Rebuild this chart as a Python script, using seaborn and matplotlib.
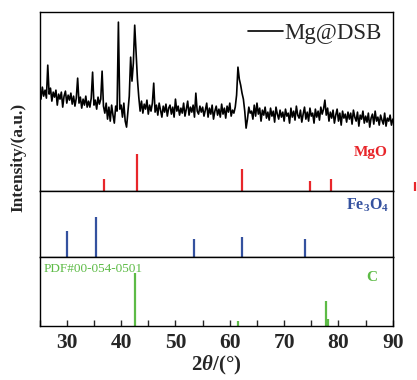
import numpy as np
import pandas as pd
import matplotlib
matplotlib.use("Agg")
import matplotlib.pyplot as plt
import seaborn as sns
from matplotlib.ticker import MultipleLocator

# =====================================
# 1. DATA
# =====================================

# measured pattern, 25-90 deg, 0.25 deg step (arbitrary units)
xrd_counts = [
    100, 92, 104, 95, 101, 93, 126, 97, 103, 90, 99, 94,      # 25
    101, 86, 97, 92, 99, 84, 95, 100, 88, 96, 91, 98,         # 28
    87, 95, 85, 93, 113, 88, 94, 83, 92, 86, 95, 84,          # 31
    90, 84, 93, 119, 86, 91, 82, 94, 87, 92, 120, 85,         # 34
    78, 88, 72, 84, 70, 86, 76, 68, 85, 80, 169, 82,          # 37
    86, 74, 88, 70, 64, 80, 95, 134, 110, 128, 166, 138,      # 40
    112, 94, 80, 90, 78, 87, 82, 91, 77, 86, 80, 88,          # 43
    108, 79, 86, 76, 88, 81, 74, 85, 79, 87, 75, 83,          # 46
    86, 77, 84, 74, 92, 80, 85, 76, 83, 78, 88, 75,           # 49
    82, 90, 76, 84, 79, 86, 74, 98, 80, 77, 85, 79,           # 52
    84, 75, 81, 88, 74, 83, 77, 86, 72, 80, 85, 76,           # 55
    82, 74, 87, 77, 83, 73, 85, 79, 88, 75, 81, 78,           # 58
    84, 96, 124, 112, 106, 98, 92, 80, 63, 72, 84, 78,        # 61
    80, 72, 86, 75, 88, 77, 83, 70, 81, 76, 84, 73,           # 64
    79, 71, 83, 75, 80, 69, 84, 77, 72, 81, 74, 79,           # 67
    70, 82, 75, 78, 68, 83, 74, 80, 71, 85, 76, 73,           # 70
    81, 69, 77, 84, 72, 79, 70, 83, 75, 78, 68, 82,           # 73
    74, 80, 71, 84, 77, 82, 91, 76, 83, 70, 79, 73,           # 76
    81, 68, 76, 82, 70, 78, 66, 80, 73, 77, 69, 79,           # 79
    72, 78, 67, 81, 74, 70, 79, 65, 76, 72, 80, 68,           # 82
    75, 69, 78, 64, 73, 77, 67, 80, 70, 74, 66, 76,           # 85
    71, 67, 78, 65, 73, 70, 76, 66, 72,                       # 88-90
]
two_theta = np.linspace(25, 90, len(xrd_counts))

# reference cards
mgo_pos = [36.9, 42.9, 62.3, 74.7, 78.6, 94.0]
mgo_int = [12, 37, 22, 10, 12, 9]

fe3o4_pos = [30.1, 35.4, 53.5, 62.3, 73.9]
fe3o4_int = [26, 40, 18, 20, 18]

c_pos = [42.5, 61.5, 77.7, 78.0]
c_int = [53, 5, 25, 7]

xticks = [30, 40, 50, 60, 70, 80, 90]

red = "#e8262b"
blue = "#34519f"
green = "#5dbb46"

# =====================================
# 2. STYLE
# =====================================

sns.set_style("ticks")
plt.rcParams["font.family"] = ["Liberation Serif", "DejaVu Serif"]
plt.rcParams["mathtext.fontset"] = "custom"
plt.rcParams["mathtext.rm"] = "Liberation Serif"
plt.rcParams["mathtext.bf"] = "Liberation Serif:bold"
plt.rcParams["mathtext.it"] = "Liberation Serif:italic"
plt.rcParams["mathtext.bfit"] = "Liberation Serif:italic:bold"

df = pd.DataFrame({"two_theta": two_theta, "counts": xrd_counts})

# =====================================
# 3. FIGURE
# =====================================

fig, axes = plt.subplots(
    3, 1, figsize=(4.17, 3.80), dpi=100, sharex=True,
    gridspec_kw={"height_ratios": [179, 66, 69], "hspace": 0}
)
fig.subplots_adjust(left=0.095, right=0.942, top=0.968, bottom=0.142)
ax1, ax2, ax3 = axes

# top: measured pattern + MgO card
sns.lineplot(
    data=df, x="two_theta", y="counts", ax=ax1,
    color="black", lw=1.2, estimator=None, label="Mg@DSB"
)
ax1.vlines(mgo_pos, 0, mgo_int, color=red, lw=1.6, clip_on=False)
ax1.set_ylim(0, 179)
ax1.text(0.986, 0.218, "MgO", color=red, fontsize=11, fontweight="bold",
         ha="right", va="center", transform=ax1.transAxes)
ax1.legend(loc="center right", bbox_to_anchor=(1.0, 0.883), frameon=False,
           fontsize=16.5, handlelength=1.5, handletextpad=0.05,
           borderaxespad=0.1)

# middle: Fe3O4 card
ax2.vlines(fe3o4_pos, 0, fe3o4_int, color=blue, lw=1.6)
ax2.set_ylim(0, 66)
ax2.text(0.988, 0.79, r"$\mathbf{Fe_3O_4}$", color=blue, fontsize=11.5,
         ha="right", va="center", transform=ax2.transAxes)

# bottom: C card
ax3.vlines(c_pos, 0, c_int, color=green, lw=1.6)
ax3.set_ylim(0, 69)
ax3.text(0.955, 0.70, "C", color=green, fontsize=11, fontweight="bold",
         ha="right", va="center", transform=ax3.transAxes)
ax3.text(0.012, 0.83, "PDF#00-054-0501", color=green, fontsize=9.5,
         ha="left", va="center", transform=ax3.transAxes)

for ax in axes:
    ax.set_xlim(25, 90)
    ax.set_ylabel("")
    ax.set_xlabel("")
    ax.set_yticks([])
    ax.tick_params(left=False, labelleft=False, bottom=False, labelbottom=False)
    for s in ax.spines.values():
        s.set_visible(True)
        s.set_linewidth(1.0)
        s.set_color("black")

ax3.set_xticks(xticks)
ax3.xaxis.set_minor_locator(MultipleLocator(5))
ax3.tick_params(axis="x", which="both", bottom=True, labelbottom=True,
                direction="in", length=4, width=1.0)
ax3.tick_params(axis="x", which="major", labelsize=15.5, pad=5)
for lab in ax3.get_xticklabels():
    lab.set_fontweight("bold")

ax3.set_xlabel(r"2$\mathbfit{\theta}$/(°)", fontsize=15, fontweight="bold",
               labelpad=1)
fig.text(0.045, 1 - 157 / 380, "Intensity/(a.u.)", rotation=90,
         fontsize=12.5, fontweight="bold", ha="center", va="center")

plt.savefig("out.png", dpi=100)
